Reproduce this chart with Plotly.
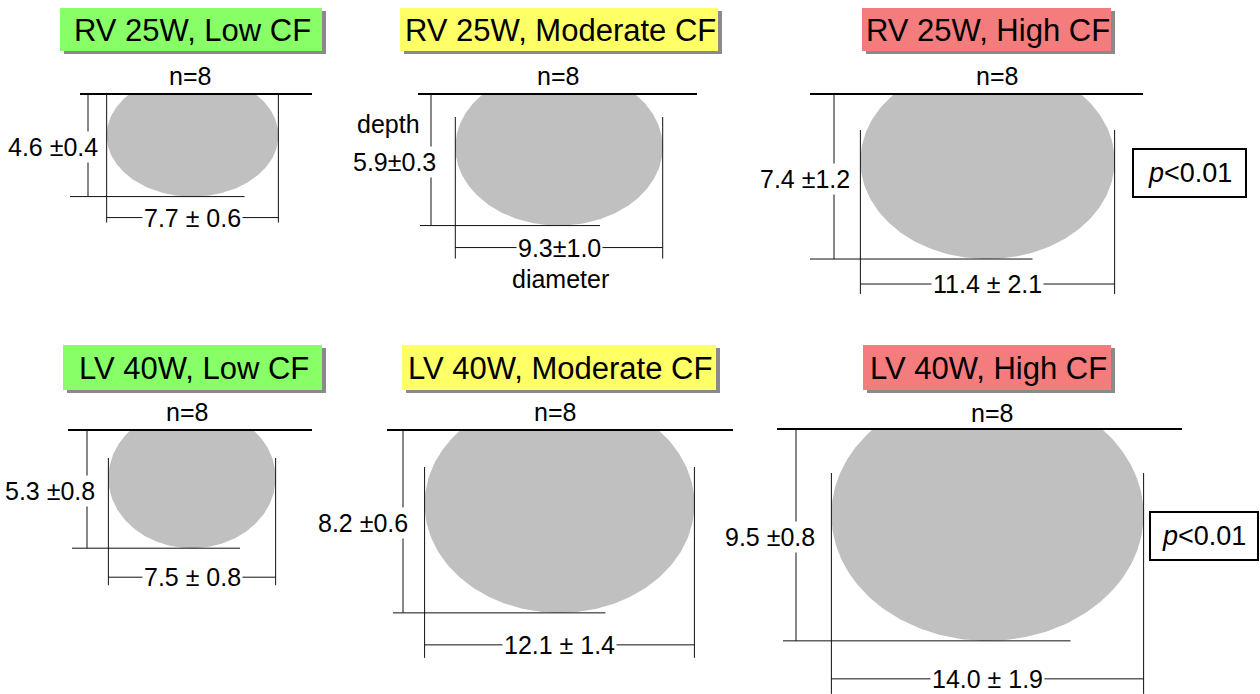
import numpy as np
import plotly.graph_objects as go

# ---------------- data ----------------
panel_titles = ["RV 25W, Low CF", "RV 25W, Moderate CF", "RV 25W, High CF",
                "LV 40W, Low CF", "LV 40W, Moderate CF", "LV 40W, High CF"]
n_lesions = [8, 8, 8, 8, 8, 8]
depth_mean = [4.6, 5.9, 7.4, 5.3, 8.2, 9.5]
depth_sd = [0.4, 0.3, 1.2, 0.8, 0.6, 0.8]
diam_mean = [7.7, 9.3, 11.4, 7.5, 12.1, 14.0]
diam_sd = [0.6, 1.0, 2.1, 0.8, 1.4, 1.9]
p_text = ["", "", "p<0.01", "", "", "p<0.01"]

# ---------------- styles / layout ----------------
FONT = "Liberation Sans, Arial, sans-serif"
S = 22.3          # pixels per mm
TRUNC = 0.68      # fraction of the vertical semi-axis cut off above the surface
cf_colors = ["#88FF66", "#FFFF66", "#F47C7C", "#88FF66", "#FFFF66", "#F47C7C"]
depth_sep = [" \u00b1", "\u00b1", " \u00b1", " \u00b1", " \u00b1", " \u00b1"]
diam_sep = [" \u00b1 ", "\u00b1", " \u00b1 ", " \u00b1 ", " \u00b1 ", " \u00b1 "]

cx = [192.5, 559, 987.5, 192, 559.5, 987.5]
surface_y = [94, 94, 94, 430, 430, 429]
surf_x0 = [80, 418, 810, 68, 387, 777]
surf_x1 = [312, 697, 1143, 312, 733, 1182]
depth_x = [88, 431, 834, 87, 403, 796]
depth_tick_left = [18, 11, 24, 15, 10, 13]
depth_tick_right = [52, 41, 45, 48, 46, 83]
diam_top = [94, 117, 130, 458, 467, 473]
diam_line_off = [21, 22, 25, 29, 32, 38]
diam_bot_off = [5, 11, 10, 8, 13, 15]
depth_label_right = [100, 438, 852, 97, 410, 817]
title_x0 = [60, 400, 862, 63, 402, 863]
title_x1 = [322, 718, 1111, 322, 716, 1111]
title_y = [(8, 51), (8, 51), (8, 51), (345, 390), (345, 390), (345, 390)]
n_xy = [(190, 76), (558, 76), (997, 76), (187, 412), (555, 412), (992, 413)]
p_box = [None, None, (1133, 1246, 149, 197), None, None, (1150, 1258, 512, 560)]

fig = go.Figure()
shapes = []
ann = []
LINE = dict(color="#111111", width=1)

for i in range(6):
    sy = surface_y[i]
    W = diam_mean[i] * S
    D = depth_mean[i] * S
    a = W / 2
    b = D / (1 + TRUNC)
    cy = sy + TRUNC * b
    th = np.linspace(-np.arcsin(TRUNC), np.pi + np.arcsin(TRUNC), 200)
    ex = cx[i] + a * np.cos(th)
    ey = cy + b * np.sin(th)
    ex = np.append(ex, ex[0])
    ey = np.append(ey, ey[0])
    fig.add_trace(go.Scatter(x=ex, y=ey, mode="lines", fill="toself",
                             fillcolor="#C0C0C0", line=dict(width=0, color="#C0C0C0"),
                             hoverinfo="skip", showlegend=False))
    bottom = sy + D
    xl = cx[i] - a
    xr = cx[i] + a
    # tissue surface
    shapes.append(dict(type="line", x0=surf_x0[i], x1=surf_x1[i], y0=sy, y1=sy,
                       line=dict(color="black", width=2)))
    # depth dimension
    shapes.append(dict(type="line", x0=depth_x[i], x1=depth_x[i], y0=sy, y1=bottom, line=LINE))
    shapes.append(dict(type="line", x0=depth_x[i] - depth_tick_left[i],
                       x1=cx[i] + depth_tick_right[i], y0=bottom, y1=bottom, line=LINE))
    # diameter dimension
    dly = bottom + diam_line_off[i]
    dby = dly + diam_bot_off[i]
    shapes.append(dict(type="line", x0=xl, x1=xl, y0=diam_top[i], y1=dby, line=LINE))
    shapes.append(dict(type="line", x0=xr, x1=xr, y0=diam_top[i], y1=dby, line=LINE))
    shapes.append(dict(type="line", x0=xl, x1=xr, y0=dly, y1=dly, line=LINE))
    # title box with shadow
    ty0, ty1 = title_y[i]
    shapes.append(dict(type="rect", x0=title_x0[i] + 4, x1=title_x1[i] + 4, y0=ty0 + 3, y1=ty1 + 3,
                       fillcolor="#8A8A8A", line=dict(width=0), layer="below"))
    shapes.append(dict(type="rect", x0=title_x0[i], x1=title_x1[i], y0=ty0, y1=ty1,
                       fillcolor=cf_colors[i], line=dict(width=0), layer="below"))
    ann.append(dict(x=(title_x0[i] + title_x1[i]) / 2 + 1, y=(ty0 + ty1) / 2 + 1, text=panel_titles[i],
                    showarrow=False, xanchor="center", yanchor="middle",
                    font=dict(family=FONT, size=31, color="black")))
    # n label
    ann.append(dict(x=n_xy[i][0], y=n_xy[i][1], text=f"n={n_lesions[i]}", showarrow=False,
                    xanchor="center", yanchor="middle",
                    font=dict(family=FONT, size=25, color="black")))
    # depth label
    dtxt = f"{depth_mean[i]:.1f}{depth_sep[i]}{depth_sd[i]:.1f}"
    ann.append(dict(x=depth_label_right[i], y=(sy + bottom) / 2 + 2, text=dtxt, showarrow=False,
                    xanchor="right", yanchor="middle", bgcolor="white", borderpad=1,
                    font=dict(family=FONT, size=25, color="black")))
    # diameter label
    wtxt = f"{diam_mean[i]:.1f}{diam_sep[i]}{diam_sd[i]:.1f}"
    ann.append(dict(x=cx[i], y=dly, text=wtxt, showarrow=False,
                    xanchor="center", yanchor="middle", bgcolor="white", borderpad=1,
                    font=dict(family=FONT, size=25, color="black")))
    if i == 1:
        ann.append(dict(x=depth_label_right[i] - 16, y=(sy + bottom) / 2 - 36, text="depth",
                        showarrow=False, xanchor="right", yanchor="middle", bgcolor="white",
                        font=dict(family=FONT, size=25, color="black")))
        ann.append(dict(x=cx[i] + 1, y=dly + 31, text="diameter", showarrow=False,
                        xanchor="center", yanchor="middle",
                        font=dict(family=FONT, size=25, color="black")))
    if p_box[i] is not None:
        px0, px1, py0, py1 = p_box[i]
        shapes.append(dict(type="rect", x0=px0, x1=px1, y0=py0, y1=py1,
                           fillcolor="white", line=dict(color="black", width=2)))
        ptxt = "<i>p</i>&lt;" + p_text[i].split("<")[1]
        ann.append(dict(x=(px0 + px1) / 2, y=(py0 + py1) / 2, text=ptxt, showarrow=False,
                        xanchor="center", yanchor="middle",
                        font=dict(family=FONT, size=27, color="black")))

fig.update_layout(
    width=1260, height=694,
    margin=dict(l=0, r=0, t=0, b=0),
    paper_bgcolor="white", plot_bgcolor="white",
    xaxis=dict(range=[0, 1260], visible=False, fixedrange=True),
    yaxis=dict(range=[694, 0], visible=False, fixedrange=True),
    shapes=shapes, annotations=ann, showlegend=False,
)
fig.write_html("out.html", config={"displayModeBar": False})
